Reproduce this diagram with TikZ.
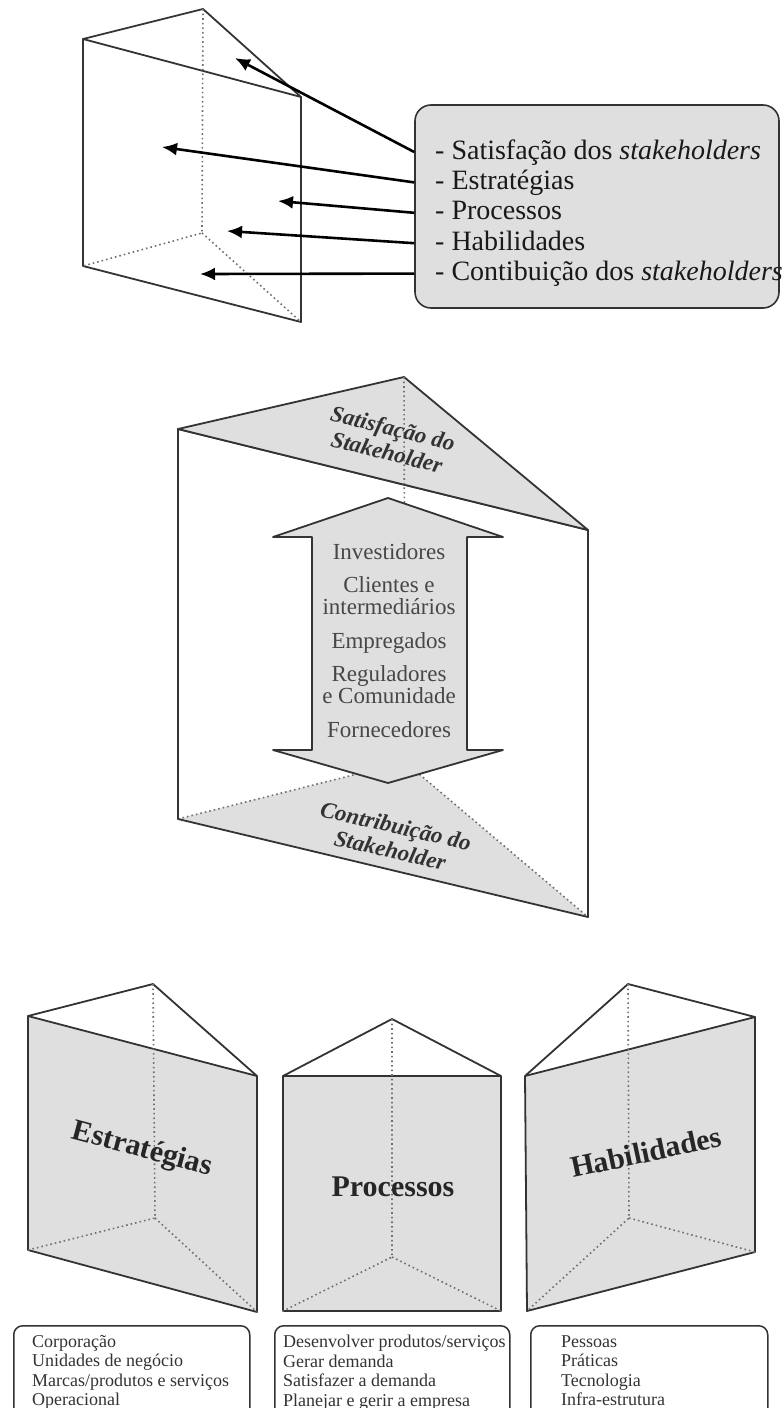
\documentclass[tikz,border=0pt]{standalone}
\usepackage{fontspec}
\setmainfont{Liberation Serif}
\usetikzlibrary{arrows.meta,positioning,calc}
\definecolor{ink}{HTML}{333333}
\definecolor{panel}{HTML}{DFDFDF}
\tikzset{
  rim/.style={draw=ink, line width=1.8pt, line join=round},
  hidden/.style={draw=ink!70, line width=1.6pt, dash pattern=on 1.6pt off 3pt},
  pointer/.style={-{Latex[length=15pt,width=13pt]}, line width=2.6pt},
  listbox/.style={draw=ink, fill=panel, line width=1.6pt, rounded corners=16pt},
  item/.style={anchor=west, inner sep=0pt, text height=20pt, text depth=6pt,
               font=\fontsize{28}{30}\selectfont, text=black!90},
  tag/.style={font=\fontsize{23}{22}\selectfont, text=ink!90, align=center, inner sep=0pt},
  roof/.style={font=\fontsize{23}{25}\selectfont\bfseries\itshape, text=ink, align=center, inner sep=0pt},
  facename/.style={font=\fontsize{30}{32}\selectfont\bfseries, text=black!85, inner sep=0pt},
  notes/.style={draw=ink, line width=1.5pt, rounded corners=9pt, anchor=north west,
                minimum height=120pt},
  note/.style={anchor=north west, align=left, inner sep=0pt,
               font=\fontsize{18}{19.5}\selectfont, text=ink},
}

\begin{document}
\begin{tikzpicture}[x=1pt, y=-1pt]

\clip (0,0) rectangle (782,1408);

% -------------------- Top prism with its parts --------------------
\draw[rim] (83,39) -- (301,97) -- (301,322) -- (83,266) -- cycle;
\draw[rim] (83,39) -- (203,9) -- (301,97);
\draw[hidden] (203,9) -- (202,233) -- (83,266) (202,233) -- (301,322);

\node[listbox, minimum width=364pt, minimum height=203pt] (list) at (597,206.5) {};
\node[item] (sat) at (435,152) {- Satisfação dos \textit{stakeholders}};
\node[item, below=4pt of sat.south west, anchor=north west] (est) {- Estratégias};
\node[item, below=4pt of est.south west, anchor=north west] (pro) {- Processos};
\node[item, below=4pt of pro.south west, anchor=north west] (hab) {- Habilidades};
\node[item, below=4pt of hab.south west, anchor=north west] (con) {- Contibuição dos \textit{stakeholders}};

\coordinate (p-sat) at (235,58);
\coordinate (p-est) at (162,147);
\coordinate (p-pro) at (278,201);
\coordinate (p-hab) at (227,231);
\coordinate (p-con) at (200,274);

\draw[pointer] (list.west |- sat) -- (p-sat);
\draw[pointer] (list.west |- est) -- (p-est);
\draw[pointer] (list.west |- pro) -- (p-pro);
\draw[pointer] (list.west |- hab) -- (p-hab);
\draw[pointer] (list.west |- con) -- (p-con);

% -------------------- Stakeholder prism --------------------
\fill[panel] (178,819) -- (405,762) -- (588,917) -- cycle;
\draw[hidden] (178,819) -- (405,762) -- (588,917);
\draw[rim] (178,429) -- (588,530) -- (588,917) -- (178,819) -- cycle;
\draw[rim, fill=panel] (178,429) -- (404,377) -- (588,530) -- cycle;
\draw[hidden] (404,377) -- (405,762);

% double arrow
\draw[rim, fill=panel] (388,498) -- (503,537) -- (467,537) -- (467,750) -- (503,750)
  -- (388,783) -- (273,750) -- (312,750) -- (312,537) -- (273,537) -- cycle;

\node[roof, rotate=-14] (satis) at (390,440) {Satisfação do\\Stakeholder};
\node[roof, rotate=-13] (contr) at (393,838) {Contribuição do\\Stakeholder};

\node[tag] (inv) at (389,552) {Investidores};
\node[tag] (cli) at (389,596) {Clientes e\\intermediários};
\node[tag] (emp) at (389,643) {Empregados};
\node[tag] (reg) at (389,685) {Reguladores\\e Comunidade};
\node[tag] (forn) at (389,730) {Fornecedores};

% -------------------- Strategy / process / capability prisms --------------------
\draw[rim, fill=panel] (28,1016) -- (257,1076) -- (257,1312) -- (28,1250) -- cycle;
\draw[rim] (28,1016) -- (153,984) -- (257,1076);
\draw[hidden] (153,984) -- (155,1218) -- (28,1250) (155,1218) -- (257,1312);
\node[facename, rotate=-15] (strat) at (142,1150) {Estratégias};

\draw[rim, fill=panel] (283,1076) rectangle (501,1311);
\draw[rim] (283,1076) -- (392,1019) -- (501,1076);
\draw[hidden] (392,1019) -- (392,1257) -- (283,1311) (392,1257) -- (501,1311);
\node[facename] (proc) at (393,1187) {Processos};

\draw[rim, fill=panel] (525,1076) -- (755,1017) -- (755,1252) -- (527,1311) -- cycle;
\draw[rim] (525,1076) -- (628,984) -- (755,1017);
\draw[hidden] (628,984) -- (629,1218) -- (527,1311) (629,1218) -- (755,1252);
\node[facename, rotate=12] (capab) at (646,1152) {Habilidades};

% -------------------- Lists under the prisms --------------------
\node[notes, minimum width=236pt] (stratbox) at (13,1325) {};
\node[note] (stratlist) at (32,1335) {Corporação\\Unidades de negócio\\Marcas/produtos e serviços\\Operacional};

\node[notes, minimum width=235pt] (procbox) at (274,1325) {};
\node[note] (proclist) at (283,1335) {Desenvolver produtos/serviços\\Gerar demanda\\Satisfazer a demanda\\Planejar e gerir a empresa};

\node[notes, minimum width=237pt] (capabbox) at (530,1325) {};
\node[note] (capablist) at (561,1335) {Pessoas\\Práticas\\Tecnologia\\Infra-estrutura};

\end{tikzpicture}
\end{document}
